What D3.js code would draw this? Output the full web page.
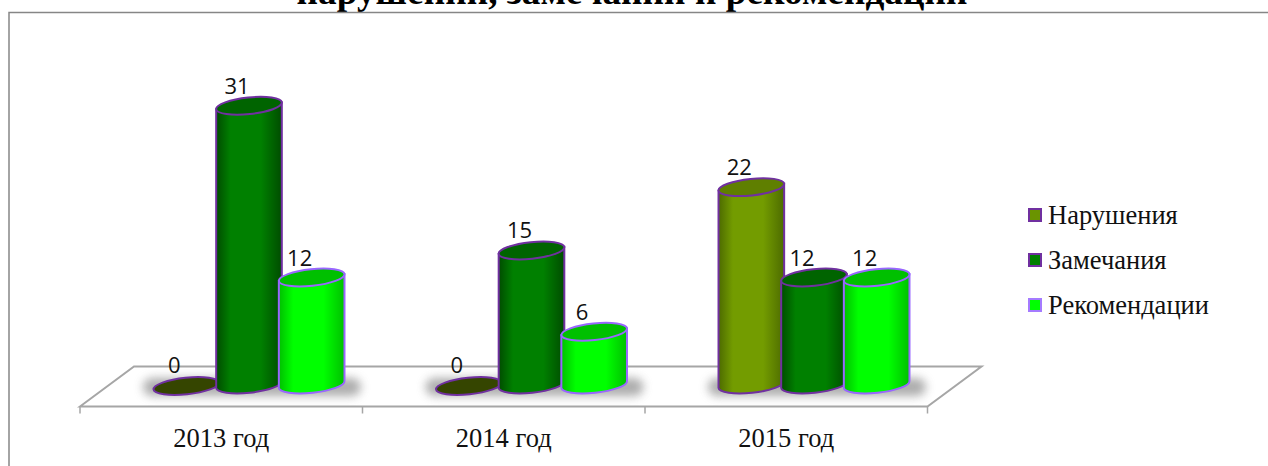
<!DOCTYPE html>
<html><head><meta charset="utf-8">
<script src="https://cdn.jsdelivr.net/npm/d3@7"></script>
<style>html,body{margin:0;padding:0;background:#fff;overflow:hidden}svg{display:block}</style>
</head><body><svg id="c" width="1268" height="466"></svg>
<script>
const titleText = "нарушений, замечаний и рекомендаций";
const categories = ["2013 год","2014 год","2015 год"];
const seriesNames = ["Нарушения","Замечания","Рекомендации"];
const violations = [0,0,22];
const remarks = [31,15,12];
const recommendations = [12,6,12];
const seriesValues = [violations,remarks,recommendations];
const mainColors = ["#739c00","#008000","#00ff00"];
const edgeColors = ["#4d6b00","#004c00","#00c000"];
const topColors = ["#5f7f00","#006400","#00c000"];
const zeroFill = "#354500";
const strokes = ["#7030a0","#7030a0","#9966ff"];

const svg = d3.select("#c");
const x = d3.scaleBand().domain(categories).range([80,927.5]);
const inner = d3.scaleBand().domain(seriesNames).range([75,263]);
const y = d3.scaleLinear().domain([0,31]).range([386,105.8]);
const rx = 33, ry = 8.3, tilt = -6;
const depthX = 54, frontY = 406.5, backY = 366.5;

svg.append("text").attr("x",632).attr("y",4).attr("text-anchor","middle")
  .attr("font-family","Liberation Serif").attr("font-weight","bold").attr("font-size",37.3).text(titleText);

svg.append("path").attr("d","M1268,12.5H9V466").attr("fill","none").attr("stroke","#868686").attr("stroke-width",1.5);

const defs = svg.append("defs");
defs.append("filter").attr("id","blur").attr("x","-30%").attr("y","-100%").attr("width","160%").attr("height","300%")
  .append("feGaussianBlur").attr("stdDeviation",5);
seriesNames.forEach((s,i)=>{
  const g = defs.append("linearGradient").attr("id","g"+i);
  [[0,edgeColors[i]],[.22,mainColors[i]],[.68,mainColors[i]],[1,edgeColors[i]]].forEach(([o,c])=>
    g.append("stop").attr("offset",o).attr("stop-color",c));
});

// floor
const floorStroke = "#a6a6a6";
svg.append("path").attr("fill","#fff").attr("stroke",floorStroke).attr("stroke-width",2)
  .attr("d",`M80,${frontY}L${80+depthX},${backY}H${927.5+depthX}L927.5,${frontY}Z`);
const ticks = categories.map(c=>x(c)).concat([x.range()[1]]);
svg.selectAll(".tick").data(ticks).join("line").attr("x1",d=>d).attr("x2",d=>d)
  .attr("y1",frontY).attr("y2",frontY+7).attr("stroke",floorStroke).attr("stroke-width",1.5);

svg.selectAll(".cat").data(categories).join("text").attr("x",d=>x(d)+x.bandwidth()/2).attr("y",447)
  .attr("text-anchor","middle").attr("font-family","Liberation Serif").attr("font-size",26.5).attr("fill","#111").text(d=>d);

// shadows
categories.forEach((c,ci)=>{
  const first = x(c)+inner(seriesNames[0]), last = x(c)+inner(seriesNames[2])+inner.bandwidth();
  svg.append("rect").attr("x",first-12).attr("y",y(0)-8).attr("width",last+18-first+12).attr("height",18)
    .attr("rx",9).attr("fill","#777").attr("opacity",.6).attr("filter","url(#blur)");
});

const rad = tilt*Math.PI/180, dx = rx*Math.cos(rad), dy = rx*Math.sin(rad);
function drawBar(ci,si){
  const c = categories[ci], v = seriesValues[si][ci];
  const cx = x(c)+inner(seriesNames[si])+inner.bandwidth()/2;
  const yb = y(0)-1.5, yt = y(v);
  const g = svg.append("g");
  if(v>0){
    g.append("path").attr("fill",`url(#g${si})`).attr("stroke",strokes[si]).attr("stroke-width",2)
      .attr("d",`M${cx-dx},${yt-dy}L${cx-dx},${yb-dy}A${rx},${ry} ${tilt} 0 0 ${cx+dx},${yb+dy}L${cx+dx},${yt+dy}Z`);
  }
  g.append("ellipse").attr("rx",rx).attr("ry",ry)
    .attr("transform",`translate(${cx},${yt}) rotate(${tilt})`)
    .attr("fill",v>0?topColors[si]:zeroFill).attr("stroke",strokes[si]).attr("stroke-width",2);
}
categories.forEach((c,ci)=>seriesNames.forEach((s,si)=>{ if(seriesValues[si][ci]===0) drawBar(ci,si); }));
categories.forEach((c,ci)=>seriesNames.forEach((s,si)=>{ if(seriesValues[si][ci]>0) drawBar(ci,si); }));

// data labels
categories.forEach((c,ci)=>seriesNames.forEach((s,si)=>{
  const v = seriesValues[si][ci];
  svg.append("text").attr("x",x(c)+inner(s)+inner.bandwidth()/2-12)
    .attr("y",y(v)-(v>0?12:13)).attr("text-anchor","middle")
    .attr("font-family","Open Sans").attr("font-size",22).attr("fill","#111").text(v);
}));

// legend
const ly = d3.scalePoint().domain(seriesNames).range([215,305]);
seriesNames.forEach((s,i)=>{
  svg.append("rect").attr("x",1029).attr("y",ly(s)-6).attr("width",12).attr("height",12)
    .attr("fill",i==0?"#6a9400":mainColors[i]).attr("stroke",i==2?"#a57bff":strokes[i]).attr("stroke-width",2);
  svg.append("text").attr("x",1048).attr("y",ly(s)+8.5).attr("font-family","Liberation Serif")
    .attr("font-size",26.5).attr("fill","#111").text(s);
});
</script></body></html>
